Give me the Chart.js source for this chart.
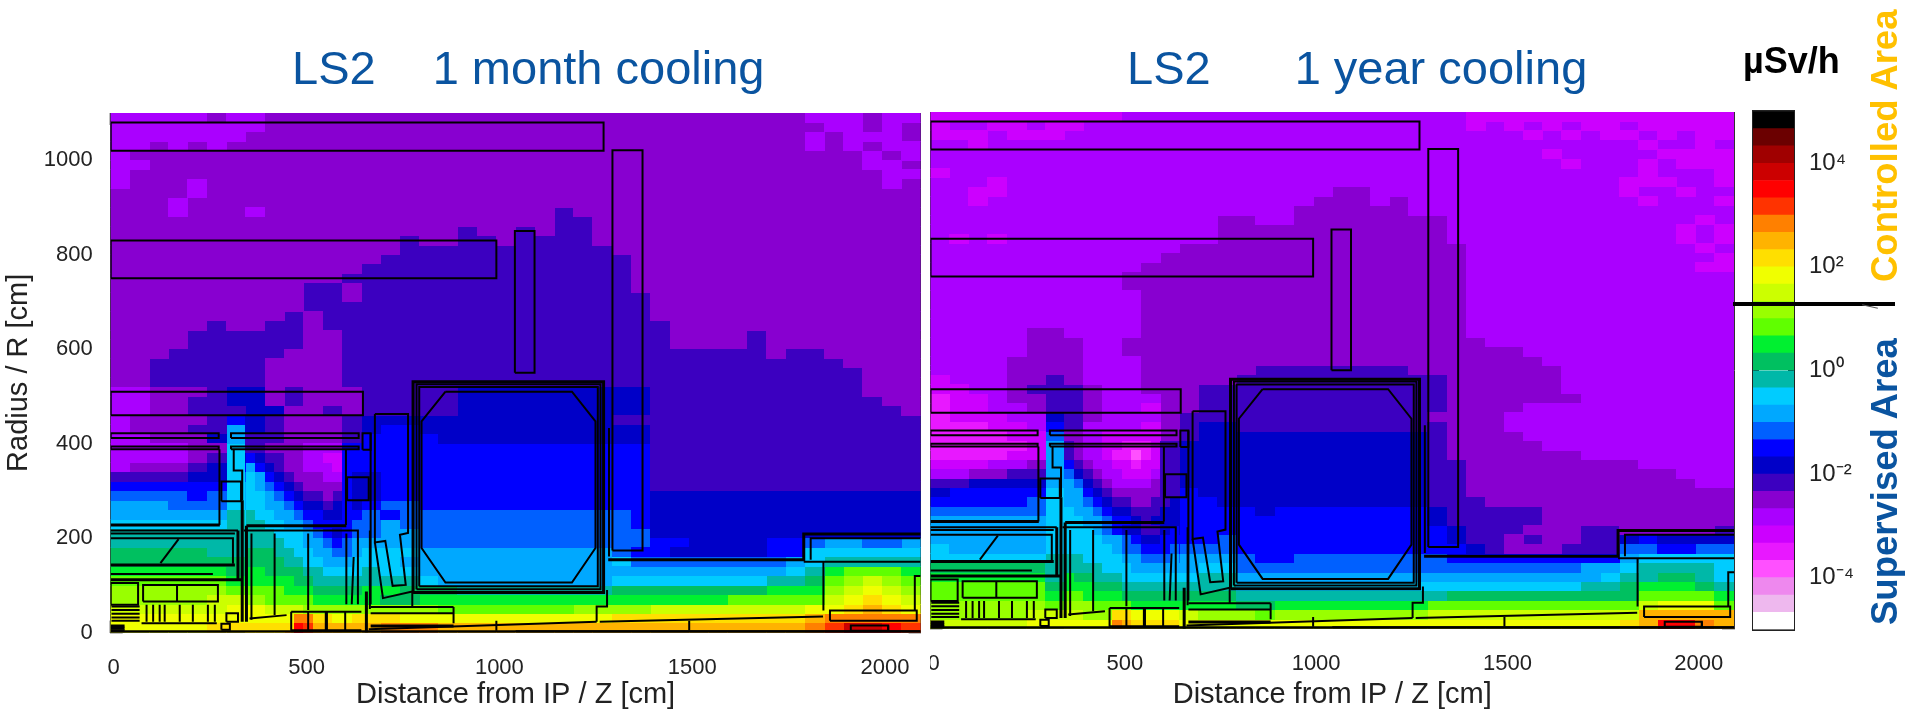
<!DOCTYPE html>
<html>
<head>
<meta charset="utf-8">
<title>LS2 cooling</title>
<script src="https://cdn.jsdelivr.net/npm/chart.js@4"></script>
<style>
  body { margin: 0; background: #fff; width: 1907px; height: 712px; overflow: hidden; position: relative; font-family: "Liberation Sans", Arial, sans-serif; }
  canvas { position: absolute; top: 0; }
  .title { position: absolute; top: 44px; font-size: 47px; line-height: 47px; color: #0a54a0; white-space: pre; }
  .unit { position: absolute; left: 1743px; top: 43px; font-size: 36px; line-height: 36px; font-weight: bold; color: #000; }
  .side { position: absolute; left: 1867px; font-size: 36.5px; line-height: 36.5px; font-weight: bold; white-space: pre; transform-origin: left top; transform: rotate(-90deg); }
  .split { position: absolute; left: 1733px; top: 302px; width: 162px; height: 4px; background: #000; }
  .tail { position: absolute; left: 1862px; top: 306px; width: 16px; height: 1px; background: #555; transform: rotate(12deg); }
</style>
</head>
<body>
<canvas id="left" width="925" height="712" style="left:0"></canvas>
<canvas id="right" width="808" height="712" style="left:930px"></canvas>
<canvas id="bar" width="162" height="712" style="left:1745px"></canvas>
<div class="title" style="left:292px">LS2<span style="margin-left:57px">1 month cooling</span></div>
<div class="title" style="left:1127px">LS2<span style="margin-left:84px">1 year cooling</span></div>
<div class="unit">µSv/h</div>
<div class="side" style="top:282px;color:#ffc000">Controlled Area</div>
<div class="side" style="top:625px;color:#0a54a0">Supervised Area</div>
<div class="split"></div>
<div class="tail"></div>
<script>
// colour bands, low to high, three per decade from 1e-5 to 1e5
const levelColors = ["#ffffff","#eeb8ee","#ee88ee","#ff50ff","#e818ff","#cc00ff","#aa00ff","#8800d0","#3c00c0","#0000c8",
  "#0000ff","#0060ff","#00a8ff","#00ccff","#00b8a8","#00c060","#00f030","#60ff00","#99ff00","#ccff00",
  "#f0ff00","#ffdf00","#ffb300","#ff8000","#ff3300","#ff0000","#cc0000","#a00000","#6b0000","#000000"];
const levelChars = "0123456789abcdefghijklmnopqrst";

const zTicks = [0, 500, 1000, 1500, 2000];
const rTicks = [0, 200, 400, 600, 800, 1000];
const decadeLabels = { "4": "10⁴", "2": "10²", "0": "10⁰", "-2": "10⁻²", "-4": "10⁻⁴" };

// dose cells: rows from R=1090 down to R=10 (20 cm), columns Z=25..2075 (50 cm)
const monthCooling = [
  "666667 667777 777777 777777 777777 777777 666766",
  "666666 667777 777777 777777 777777 777777 766767",
  "666666 677777 777777 777777 777777 777777 676667",
  "667676 777777 777777 777777 777777 777777 676766",
  "677777 777777 777777 777777 777777 777777 777676",
  "667777 777777 777777 777777 777777 777777 777667",
  "677777 777777 777777 777777 777777 777777 777766",
  "677767 777777 777777 777777 777777 777777 777767",
  "777767 777777 777777 777777 777777 777777 777777",
  "777677 777777 777777 777777 777777 777777 777777",
  "777677 767777 777777 777778 777777 777777 777777",
  "777777 777777 777777 777778 877777 777777 777777",
  "777777 777777 777777 877878 877777 777777 777777",
  "777777 777777 777877 887888 877777 777777 777777",
  "777777 777777 777888 888888 887777 777777 777777",
  "777777 777777 778888 888888 888777 777777 777777",
  "777777 777777 788888 888888 888777 777777 777777",
  "777777 777777 888888 888888 888777 777777 777777",
  "777777 777788 788888 888888 888777 777777 777777",
  "777777 777788 788888 888888 888877 777777 777777",
  "777777 777788 888888 888888 888877 777777 777777",
  "777777 777878 888888 888888 888877 777777 777777",
  "777778 778878 888888 888888 888887 777777 777777",
  "777788 888877 888888 888888 888887 777877 777777",
  "777788 888877 888888 888888 888887 777877 777777",
  "777888 888777 888888 888888 888888 888878 877777",
  "778888 887777 888888 888888 888888 888888 887777",
  "778888 887777 888888 888888 888888 888888 888777",
  "778888 887777 888888 888888 888888 888888 888777",
  "667778 997877 788888 999999 999988 888888 888777",
  "667788 997877 788888 999999 999988 888888 888877",
  "667788 899778 788888 999999 999988 888888 888887",
  "677778 a98777 899999 999999 998888 888888 888888",
  "677788 c98777 89aa99 999999 999988 888888 888888",
  "667779 c88777 8aaaa9 999999 999988 888888 888888",
  "666677 d87776 9aaaaa aaaaaa aaaa88 888888 888888",
  "666678 d97656 aaaaaa aaaaaa aaaa88 888888 888888",
  "677789 da8766 aaaaaa aaaaaa aaaa88 888888 888888",
  "888899 dba877 a9aaaa aaaaaa aaaa88 888888 888888",
  "aaaaaa dcb987 a9aaaa aaaaaa aaaa88 888888 888888",
  "bbbbab dcba88 a9aaaa aaaaaa aaaa99 999999 999999",
  "cccbbb dcbaa9 aabbaa aaaaaa aaaa99 999999 999999",
  "cccccc edcbaa ababbb bbbbbb bbba99 999999 999999",
  "dddddd edcbba bbcbbb bbbbbb bbba99 999999 999999",
  "eeeeee edddcb bbccbb bbbbbb bbbb99 999999 999999",
  "eeeeee eeedcb bcccbb bbbbbb bbbbaa 9999aa bccbbc",
  "fffffe efeddc cdddcc cccccc ccbaa9 9999aa dddddd",
  "ffffff fgffed dddccc cccccc ccdbbb bbbbbc deeeee",
  "gggggg fggggf eeddcc cccccc cccccc cccccd eghhhg",
  "hhhhhh ghhggf feeedc cccccc ccdddd ddddee fhijih",
  "iiiiii hihhhh gggfff eeeeee eeffff ffffgg gijkji",
  "iiiiij jiiiii hgffgg gggggg gggggg gghhhh hjklkj",
  "jjjjjj kjjjjj jiiiih hhhhhh iiiijj jjjjjj kklmlk",
  "kkkkkk kkkoll lllkkk kkkkkk kkllll llllll mnnnnn",
  "kkkkkl lllpnm lmnnnm mmmmmm mmmmmm mmmmmm noqqpo"
];

const yearCooling = [
  "555555 555566 666666 666666 666655 555555 555555",
  "566556 556666 666666 666666 666656 565655 655555",
  "555655 566666 666666 666666 666666 656565 565655",
  "665666 666666 666666 666666 666666 666666 656656",
  "666666 666666 666666 666666 666666 665666 665555",
  "666666 666666 666666 666666 666666 666566 656555",
  "566666 666666 666666 666666 666666 666666 656665",
  "666566 666666 666666 666666 666666 666666 555665",
  "665566 666666 666666 666776 666666 666666 566566",
  "665666 666666 666666 667776 766666 666666 656665",
  "666666 666666 666666 677777 766666 666666 666666",
  "666666 666666 666776 677777 777666 666666 666656",
  "666666 666666 666777 777777 777666 666666 666565",
  "656566 666666 666777 777777 777666 666666 666565",
  "666666 666666 677777 777777 777766 666666 666656",
  "666666 666666 777777 777777 777766 666666 666665",
  "666666 666667 777777 777777 777766 666666 666655",
  "666666 666677 777777 777777 777766 666666 666666",
  "666666 666677 777777 777777 777766 666666 666666",
  "666666 666667 777777 777777 777766 666666 666666",
  "666666 666667 777777 777777 777766 666666 666666",
  "666666 666667 777777 777777 777766 666666 666666",
  "666666 666667 777777 777777 777766 666666 666666",
  "666667 766667 777777 777777 777766 666666 666666",
  "666667 776677 777777 777777 777776 666666 666666",
  "666667 776677 777777 777777 777777 766666 666666",
  "666677 776667 777777 777777 777777 776666 666666",
  "666677 776667 777778 888888 877777 777666 666666",
  "566677 876667 777788 888888 888777 777666 666666",
  "556678 887667 778888 888888 888777 777666 666666",
  "455677 887666 778888 888888 888777 777766 666666",
  "455667 887665 778888 888888 888777 766666 666666",
  "455566 987666 788888 888888 887777 666666 666666",
  "444556 a86665 789988 888888 888777 666666 666666",
  "444455 b76555 789999 999999 998777 766666 666666",
  "444445 c86544 899999 999999 998777 776666 666666",
  "444455 c86534 899999 999999 998777 777766 666666",
  "555667 ca8654 899999 999999 998877 777777 766666",
  "667788 cb9765 899999 999999 998877 777777 777666",
  "889999 cba876 899999 999999 998877 777777 777766",
  "9aaaaa dcba87 8a9999 999999 998877 777777 777777",
  "aaaaab dcba98 9aa999 999999 998887 777777 777777",
  "bbbbbb dcbba9 9aaaa9 aaaaaa aa9888 887777 777777",
  "cccccc dddcba 9aaaaa aaaaaa aa9888 887777 777777",
  "cccccc ddcba9 9aaaaa aaaaaa aaa988 877788 777778",
  "cccccc ddcba9 aaabaa aaaaaa aaa988 787788 9a9999",
  "dccccc ddcbaa abbbaa aaaaaa aaaa98 777888 bbaabb",
  "dddddd edddcb bcccba abbbbb bbbaaa aaaaaa cddddd",
  "ffffff efeedc ccddbb bbbbbb bbbbbb bbbbcc deeeed",
  "gggggg efgfed ddeecc cccccc cccccc cccccd eeffed",
  "hhhhhh fggffe eeeedd dddddd dddddd ddddee fgggfe",
  "hhhhhh gghggf ffffee eeeeee eeefff ffffff fhhhhg",
  "iiiiii hhihhg ggggff gggggg gghhhh hhhhhh hjkkkh",
  "iiiiij jjjmkk kjiiih iiiiii iijjjj jjjjjj jmmmmm",
  "jjjjjk kkknml lkkkkk kkkkkk kkkkkk kkkkkk lmppnm"
];

// finer cells for the diagonal near the endcap: R=390..10, Z=362.5..637.5 (25 cm)
const monthDetail = [
  "887777 6666aa", "a98877 6655aa", "ca9877 6665aa", "dca987 7766a9",
  "dcba98 7777a9", "ddcba9 8878a9", "ddccba 9989a9", "eddccb aa99aa",
  "eeddcc baaaab", "eeeddd cba9ab", "eeeedd ccbabc", "fffeed dccbbc",
  "ffffee ddcccd", "ggffff eedddd", "gggggf feeeee", "hhhhgg gfffff",
  "iihhhh hggggg", "kkjjjj iiiiii", "kkkkkn nllkkl", "lllllp ommmmm"
];
const yearDetail = [
  "876655 444588", "876654 434588", "a87665 545588", "b98766 555688",
  "cb9876 666788", "cca987 777788", "ccba98 877889", "dccba9 988899",
  "ddccba a98999", "dddcba 99889a", "ddddcc ba99aa", "dddddc bbaaab",
  "eedddd ccbbbc", "eeeedd dccccc", "gffeee dddddd", "gggfff eeeeee",
  "hhgggg ffffff", "iiihhh hggggg", "jjiiil lkkkkk", "kkkkkn mlllll"
];

// detector outlines in cm: z0, r0, z1, r1
const outlineBoxes = [
  [0,1020,1278,1080],[1301,174,1379,1021],[0,750,1000,830],[1048,550,1099,850],[0,460,654,510],
  [793,92,1270,526],[800,98,1263,520],[287,278,338,320],[613,280,669,329],[653,387,674,422],
  [0,412,280,422],[312,412,643,422],[0,388,280,394],[312,388,643,394],[84,66,278,101],[0,59,71,105],
  [1865,25,2090,47],[1919,4,2016,15],[300,23,330,41],[287,6,309,19]
];
const outlineThin = [
  [[868,510],[1196,510],[1257,447],[1257,179],[1196,106],[868,106],[806,179],[806,447],[868,510]],
  [[282,388],[282,228]],[[319,388],[319,343],[341,343],[341,280]],[[610,388],[610,228]],
  [[0,216],[330,216]],[[0,210],[322,210]],[[0,200],[317,200],[317,146]],[[0,124],[265,124]],
  [[176,198],[129,147]],[[674,422],[674,60]],[[672,216],[672,50]],
  [[685,463],[771,463],[771,211],[750,207],[765,101],[731,99],[712,194],[685,191],[685,463]],
  [[685,191],[706,73],[782,87]],[[782,87],[782,54]],
  [[345,216],[641,216],[641,60]],[[365,210],[365,27]],[[425,210],[425,37]],[[512,210],[512,48]],[[611,210],[611,60]],
  [[630,160],[625,60]],[[360,30],[456,37]],
  [[512,44],[512,4]],[[560,44],[560,4]],[[608,44],[608,4]],[[468,44],[650,44]],[[468,44],[468,4]],
  [[674,41],[889,41]],[[889,54],[889,20]],[[674,54],[889,54]],
  [[669,7],[1260,23]],[[1268,23],[1847,34]],[[1050,3],[2100,3]],[[1000,4],[1000,25]],[[1500,5],[1500,25]],
  [[1260,23],[1260,55],[1287,55],[1287,90]],[[1292,433],[1292,161]],
  [[1815,154],[1815,200],[2100,200]],[[1797,150],[2100,150]],[[1848,150],[1848,47]],
  [[2016,15],[2016,4]],[[2085,47],[2085,120],[2100,120]],
  [[172,66],[172,101]],[[93,23],[93,59]],[[110,23],[110,59]],[[127,23],[127,59]],[[140,23],[140,59]],[[179,23],[179,59]],[[213,23],[213,59]],[[252,23],[252,59]],[[270,23],[270,59]],
  [[2,55],[75,55]],[[2,48],[75,48]],[[2,40],[75,40]],[[2,32],[75,32]],[[2,25],[75,25]],[[80,20],[275,20]]
];
const outlineThick = [
  [[784,85],[1278,85],[1278,531],[784,531],[784,85]],
  [[0,228],[283,228]],[[352,226],[611,226]],[[0,143],[322,143]],[[0,112],[343,112]],[[330,216],[330,112]],
  [[341,280],[341,23]],[[352,226],[352,23]],[[663,0],[663,87]],
  [[1290,154],[1797,154],[1797,209],[2100,209]],
  [[559,44],[559,4]],[[468,4],[650,4]],[[674,14],[889,14]],
  [[0,14],[36,14]],[[0,9],[36,9]],[[0,4],[36,4]],[[0,2],[2100,2]]
];

const boxPath = (b) => [[b[0],b[1]],[b[2],b[1]],[b[2],b[3]],[b[0],b[3]],[b[0],b[1]]];

function makeCell(color, w, h) {
  const c = document.createElement("canvas");
  c.width = w;
  c.height = h;
  const g = c.getContext("2d");
  g.fillStyle = color;
  g.fillRect(0, 0, w, h);
  return c;
}

// one scatter dataset per colour band, the band's cells are its points
function cellDatasets(rows, nCols, z0, dz, r0, w, h, order) {
  const byLevel = levelColors.map(() => []);
  rows.forEach((row, i) => {
    const cols = row.replace(/ /g, "");
    if (cols.length !== nCols) throw new Error("row " + i + " has " + cols.length + " cells: " + row);
    for (let j = 0; j < cols.length; j++) {
      byLevel[levelChars.indexOf(cols[j])].push({ x: z0 + j * dz, y: r0 - i * 20 });
    }
  });
  return byLevel.filter((p) => p.length).map((points) => {
    const level = byLevel.indexOf(points);
    return {
      data: points,
      pointStyle: makeCell(levelColors[level], w, h),
      pointRadius: 1,
      showLine: false,
      order
    };
  });
}

function lineDataset(path, width) {
  return {
    data: path.map((p) => ({ x: p[0], y: p[1] })),
    showLine: true,
    borderColor: "#000",
    borderWidth: width,
    pointRadius: 0,
    fill: false,
    order: 1
  };
}

function fixed(side, size) {
  return (scale) => {
    if (side === "w") scale.width = size; else scale.height = size;
    scale.paddingLeft = scale.paddingRight = scale.paddingTop = scale.paddingBottom = 0;
  };
}

const tickFont = { family: "Liberation Sans", size: 22 };
const titleFont = { family: "Liberation Sans", size: 29 };
const markGrid = { drawOnChartArea: false, tickLength: -12, tickColor: "#000", tickWidth: 1.5 };
const edge = { color: "#333", width: 1 };

function panel(id, rows, detail, o) {
  const zAxis = { type: "linear", min: 0, max: 2100, grid: markGrid, border: edge };
  const rAxis = { type: "linear", min: 0, max: 1100, grid: markGrid, border: edge };
  const datasets = cellDatasets(rows, 42, 25, 50, 1090, 20, 10, 3)
    .concat(cellDatasets(detail, 12, 362.5, 25, 390, 10, 10, 2))
    .concat(outlineBoxes.map((b) => lineDataset(boxPath(b), 2)))
    .concat(outlineThin.map((p) => lineDataset(p, 2)))
    .concat(outlineThick.map((p) => lineDataset(p, 3)));
  return new Chart(document.getElementById(id), {
    type: "scatter",
    data: { datasets },
    options: {
      responsive: false,
      animation: false,
      events: [],
      layout: { autoPadding: false, padding: { top: o.top, right: o.right, left: 0, bottom: 0 } },
      plugins: { legend: { display: false }, tooltip: { enabled: false } },
      scales: {
        x: { ...zAxis, position: "bottom", afterFit: fixed("h", 712 - o.bottom),
          afterBuildTicks: (s) => { s.ticks = zTicks.map((v) => ({ value: v })); },
          ticks: { font: tickFont, color: "#222", padding: 34, labelOffset: 3, maxRotation: 0, autoSkip: false, callback: (v) => String(v) },
          title: { display: true, text: "Distance from IP / Z [cm]", font: titleFont, color: "#222", padding: { top: 0, bottom: 0 } } },
        y: { ...rAxis, position: "left", afterFit: fixed("w", o.left),
          afterBuildTicks: (s) => { s.ticks = rTicks.map((v) => ({ value: v })); },
          ticks: { display: o.showR, font: tickFont, color: "#222", padding: 30, autoSkip: false, callback: (v) => String(v) },
          title: { display: o.showR, text: "Radius / R [cm]", font: titleFont, color: "#222", padding: { top: 2, bottom: 0 } } },
        xTop: { ...zAxis, position: "top", afterFit: fixed("h", 0),
          afterBuildTicks: (s) => { s.ticks = zTicks.map((v) => ({ value: v })); },
          ticks: { display: false } },
        yRight: { ...rAxis, position: "right", afterFit: fixed("w", 0),
          afterBuildTicks: (s) => { s.ticks = rTicks.map((v) => ({ value: v })); },
          ticks: { display: false } }
      }
    }
  });
}

panel("left", monthCooling, monthDetail, { left: 110.7, right: 4.4, top: 113, bottom: 632.6, showR: true });
panel("right", yearCooling, yearDetail, { left: 0.5, right: 4, top: 112, bottom: 628.7, showR: false });

// colour bar: floating bars, one third of a decade per band
const barGrid = { drawOnChartArea: false, tickLength: -6, tickColor: "#000", tickWidth: 1.5 };
const barEdge = { color: "#222", width: 2 };
new Chart(document.getElementById("bar"), {
  type: "bar",
  data: {
    labels: ["dose"],
    datasets: levelColors.map((c, i) => ({ data: [[-5 + i / 3, -5 + (i + 1) / 3]], backgroundColor: c, grouped: false, barPercentage: 1, categoryPercentage: 1 }))
  },
  options: {
    responsive: false,
    animation: false,
    events: [],
    layout: { autoPadding: false, padding: { top: 111.4, bottom: 0 } },
    plugins: { legend: { display: false }, tooltip: { enabled: false } },
    scales: {
      x: { position: "bottom", afterFit: fixed("h", 712 - 629.5), grid: { display: false }, border: barEdge, ticks: { display: false } },
      xTop: { position: "top", type: "linear", afterFit: fixed("h", 0), grid: { display: false }, border: barEdge, ticks: { display: false } },
      yLeft: { type: "linear", position: "left", min: -5, max: 5, afterFit: fixed("w", 8), grid: barGrid, border: barEdge,
        ticks: { display: false, stepSize: 1 } },
      y: { type: "linear", position: "right", min: -5, max: 5, afterFit: fixed("w", 113), grid: barGrid, border: barEdge,
        ticks: { stepSize: 1, font: { family: "Liberation Sans", size: 24 }, color: "#222", padding: 21,
          callback: (v) => decadeLabels[v] || "" } }
    }
  }
});
</script>
</body>
</html>
